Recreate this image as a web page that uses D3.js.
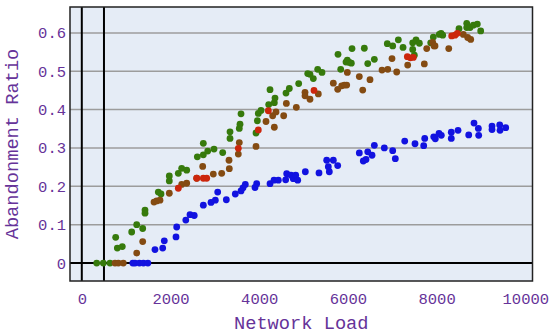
<!DOCTYPE html>
<html>
<head>
<meta charset="utf-8">
<script src="https://cdn.jsdelivr.net/npm/d3@7"></script>
<style>
  body { margin: 0; background: #fff; }
  svg { display: block; }
  text { font-family: "Liberation Mono", "Courier New", monospace; fill: #663399; }
</style>
</head>
<body>
<svg id="chart" width="550" height="335"></svg>
<script>
const yTicks = [0, 0.1, 0.2, 0.3, 0.4, 0.5, 0.6];
const xTicks = [0, 2000, 4000, 6000, 8000, 10000];
const vLines = [0, 500];

const blueSeries = [
  [1150,0],[1200,0],[1300,0],[1390,0],[1490,0],
  [1650,0.035],[1824,0.039],[1860,0.058],[2124,0.068],[2140,0.094],[2345,0.112],[2440,0.126],[2535,0.124],
  [2740,0.151],[2913,0.158],[3011,0.164],[3064,0.185],[3259,0.165],[3461,0.18],[3590,0.188],[3635,0.196],
  [3687,0.205],[3905,0.197],[3943,0.207],[4244,0.207],[4334,0.216],[4431,0.216],[4597,0.217],[4620,0.233],
  [4717,0.229],[4769,0.22],[4823,0.229],[4868,0.216],[5040,0.238],[5348,0.235],[5522,0.268],[5581,0.238],
  [5671,0.268],[5558,0.251],[5770,0.254],[6257,0.287],[6347,0.266],[6408,0.27],[6447,0.29],[6544,0.281],
  [6596,0.307],[6821,0.30],[7010,0.293],[7069,0.272],[7281,0.318],[7513,0.311],[7709,0.306],[7732,0.325],
  [7935,0.329],[7971,0.324],[8054,0.338],[8106,0.333],[8331,0.341],[8331,0.325],[8483,0.346],[8724,0.334],
  [8843,0.365],[8941,0.351],[8949,0.333],[9249,0.357],[9249,0.348],[9423,0.36],[9430,0.346],[9558,0.353]
];

const greenSeries = [
  [336,0],[485,0],[636,0],[764,0.067],[801,0.039],[913,0.043],[1125,0.081],[1238,0.1],[1373,0.09],
  [1425,0.138],[1425,0.13],[1725,0.185],[1786,0.18],[1973,0.227],[1973,0.214],[2176,0.234],[2252,0.247],
  [2365,0.242],[2605,0.277],[2740,0.282],[2740,0.312],[2839,0.292],[2981,0.297],[3177,0.288],[3342,0.325],
  [3342,0.342],[3551,0.351],[3567,0.362],[3590,0.389],[3928,0.339],[3958,0.371],[3980,0.39],[4041,0.398],
  [4214,0.413],[4244,0.452],[4341,0.418],[4356,0.43],[4604,0.443],[4679,0.455],[4890,0.468],[5094,0.494],
  [5145,0.492],[5220,0.481],[5319,0.505],[5416,0.497],[5777,0.544],[5838,0.505],[5957,0.524],[5987,0.529],
  [6032,0.523],[6077,0.521],[6093,0.559],[6370,0.56],[6447,0.52],[6596,0.531],[6888,0.572],[7010,0.566],
  [7137,0.582],[7243,0.562],[7461,0.574],[7536,0.582],[7611,0.573],[7461,0.557],[7498,0.542],[7867,0.574],
  [7926,0.589],[8061,0.596],[8100,0.599],[8137,0.594],[8505,0.611],[8679,0.625],[8679,0.614],[8754,0.614],
  [8828,0.62],[8918,0.623],[8994,0.605]
];

const brownSeries = [
  [749,0],[823,0],[936,0],[1238,0.026],[1373,0.056],[1628,0.159],[1689,0.162],[1763,0.164],[1973,0.182],
  [2252,0.205],[2365,0.208],[2591,0.221],[2726,0.252],[2965,0.232],[3154,0.234],[3319,0.268],[3326,0.246],
  [3529,0.284],[3551,0.314],[3928,0.304],[4153,0.369],[4304,0.384],[4341,0.354],[4379,0.394],[4552,0.384],
  [4612,0.416],[4837,0.406],[5033,0.445],[5033,0.436],[5145,0.427],[5333,0.441],[5671,0.469],[5770,0.453],
  [5860,0.462],[5920,0.464],[5973,0.464],[5987,0.497],[6257,0.486],[6334,0.451],[6498,0.478],[6769,0.503],
  [6898,0.505],[6994,0.533],[7100,0.498],[7348,0.516],[7723,0.519],[7777,0.559],[7964,0.566],[7912,0.575],
  [7942,0.566],[8274,0.559],[8602,0.596],[8701,0.588],[8769,0.583]
];

const redSeries = [
  [2176,0.195],[2591,0.221],[2740,0.221],[2816,0.221],[3529,0.299],[3980,0.347],[4206,0.397],[5236,0.45],
  [7340,0.538],[7408,0.535],[7475,0.536],[8340,0.592],[8415,0.594],[8467,0.599]
];

const series = [
  { name: "green", data: greenSeries, color: "#367a0c" },
  { name: "brown", data: brownSeries, color: "#844b12" },
  { name: "red", data: redSeries, color: "#cc260c" },
  { name: "blue", data: blueSeries, color: "#1212e0" }
];

const svg = d3.select("#chart");
const margin = { left: 70, right: 17.5, top: 7, bottom: 54 };
const width = 550, height = 335;

const x = d3.scaleLinear().domain([-266, 10162]).range([margin.left, width - margin.right]);
const y = d3.scaleLinear().domain([-0.0468, 0.6675]).range([height - margin.bottom, margin.top]);

// plot background
svg.append("rect")
    .attr("x", margin.left).attr("y", margin.top)
    .attr("width", width - margin.left - margin.right)
    .attr("height", height - margin.top - margin.bottom)
    .attr("fill", "#e5ecf6");

// horizontal gridlines
svg.append("g").selectAll("line")
    .data(yTicks.filter(d => d !== 0)).enter().append("line")
    .attr("x1", margin.left).attr("x2", width - margin.right)
    .attr("y1", d => y(d)).attr("y2", d => y(d))
    .attr("stroke", "#9c9c9c").attr("stroke-width", 1.5);

// zero lines
svg.append("line")
    .attr("x1", margin.left).attr("x2", width - margin.right)
    .attr("y1", y(0)).attr("y2", y(0))
    .attr("stroke", "#000").attr("stroke-width", 2);
svg.append("g").selectAll("line")
    .data(vLines).enter().append("line")
    .attr("x1", d => x(d)).attr("x2", d => x(d))
    .attr("y1", margin.top).attr("y2", height - margin.bottom)
    .attr("stroke", "#000").attr("stroke-width", 2);

// points
series.forEach(s => {
    svg.append("g").attr("class", "series-" + s.name).selectAll("circle")
        .data(s.data).enter().append("circle")
        .attr("cx", d => x(d[0]))
        .attr("cy", d => y(d[1]))
        .attr("r", 3.4)
        .attr("fill", s.color);
});

// plot border
svg.append("rect")
    .attr("x", margin.left).attr("y", margin.top)
    .attr("width", width - margin.left - margin.right)
    .attr("height", height - margin.top - margin.bottom)
    .attr("fill", "none").attr("stroke", "#222").attr("stroke-width", 1.5);

// y axis
const yAxis = d3.axisLeft(y).tickValues(yTicks).tickSize(0).tickPadding(4)
    .tickFormat(d => d === 0 ? "0" : d3.format(".1f")(d));
const yg = svg.append("g").attr("transform", `translate(${margin.left},0)`).call(yAxis);
yg.select(".domain").remove();
yg.selectAll("text").style("font-size", "15.5px").attr("fill", "#663399")
    .style("font-family", "'Liberation Mono', monospace");

// x axis
const xAxis = d3.axisBottom(x).tickValues(xTicks).tickSize(0).tickPadding(12)
    .tickFormat(d3.format("d"));
const xg = svg.append("g").attr("transform", `translate(0,${height - margin.bottom})`).call(xAxis);
xg.select(".domain").remove();
xg.selectAll("text").style("font-size", "15.5px").attr("fill", "#663399")
    .style("font-family", "'Liberation Mono', monospace");

// titles
svg.append("text")
    .attr("x", (margin.left + width - margin.right) / 2).attr("y", 329)
    .attr("text-anchor", "middle")
    .style("font-size", "18.7px")
    .text("Network Load");

svg.append("text")
    .attr("transform", `translate(18,${(margin.top + height - margin.bottom) / 2}) rotate(-90)`)
    .attr("text-anchor", "middle")
    .style("font-size", "18.7px")
    .text("Abandonment Ratio");
</script>
</body>
</html>
